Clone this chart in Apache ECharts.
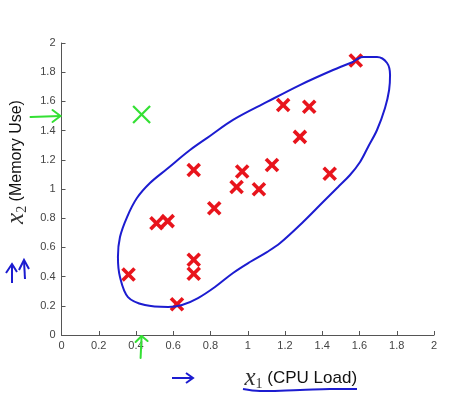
<!DOCTYPE html>
<html>
<head>
<meta charset="utf-8">
<script src="https://cdn.jsdelivr.net/npm/echarts@6/dist/echarts.min.js"></script>
<style>
html,body{margin:0;padding:0;background:#fff;}
#chart{width:461px;height:398px;}
</style>
</head>
<body>
<div id="chart"></div>
<script>
// Normal examples (red crosses)
const cpuLoad   = [1.58, 1.19, 1.33, 1.28, 1.44, 0.71, 0.97, 1.13, 0.94, 1.06, 0.82, 0.51, 0.57, 0.71, 0.71, 0.36, 0.62];
const memoryUse = [1.88, 1.575, 1.563, 1.357, 1.105, 1.13, 1.12, 1.164, 1.013, 0.998, 0.868, 0.765, 0.78, 0.515, 0.42, 0.415, 0.21];
// Anomalous example (green cross)
const anomalyCpu = [0.43];
const anomalyMem = [1.51];
// Hand-drawn decision boundary (blue loop)
const boundaryCpu = [1.565,1.619,1.694,1.748,1.764,1.759,1.737,1.694,1.646,1.603,1.549,1.485,1.404,1.297,1.174,1.103,1.012,0.921,0.824,0.733,0.647,0.572,0.448,0.357,0.314,0.303,0.314,0.352,0.405,0.475,0.566,0.690,0.797,0.921,1.103,1.280,1.458,1.565];
const boundaryMem = [1.870,1.904,1.904,1.863,1.781,1.678,1.555,1.404,1.288,1.185,1.096,1.014,0.911,0.774,0.630,0.568,0.500,0.425,0.329,0.253,0.205,0.192,0.205,0.260,0.397,0.534,0.671,0.808,0.938,1.041,1.137,1.267,1.363,1.473,1.596,1.712,1.815,1.870];
// Arrow annotations pointing at the anomaly's coordinates
const arrowTips = [[0, 1.5, 'h'], [0.43, 0, 'v']];
const axisTicks = [0, 0.2, 0.4, 0.6, 0.8, 1, 1.2, 1.4, 1.6, 1.8, 2];

const RED = '#e8141c', GREEN = '#33e033', BLUE = '#1c1cd0';

function crossRenderer(color, s, w) {
  return function (params, api) {
    const p = api.coord([api.value(0), api.value(1)]);
    return {
      type: 'group',
      children: [
        {type: 'line', shape: {x1: p[0]-s, y1: p[1]-s, x2: p[0]+s, y2: p[1]+s}, style: {stroke: color, lineWidth: w, lineCap: 'butt'}},
        {type: 'line', shape: {x1: p[0]-s, y1: p[1]+s, x2: p[0]+s, y2: p[1]-s}, style: {stroke: color, lineWidth: w, lineCap: 'butt'}}
      ]
    };
  };
}

const chart = echarts.init(document.getElementById('chart'), null, {renderer: 'canvas'});
const axisCommon = {
  type: 'value', min: 0, max: 2, interval: 0.2,
  splitLine: {show: false},
  axisLine: {show: true, onZero: false, lineStyle: {color: '#555', width: 1}},
  axisTick: {show: true, inside: true, length: 4, lineStyle: {color: '#555'}},
  axisLabel: {color: '#444', fontSize: 11, fontFamily: 'Liberation Sans', formatter: v => String(+v.toFixed(1))}
};
chart.setOption({
  animation: false,
  backgroundColor: '#fff',
  grid: {left: 61.5, right: 27, top: 43, bottom: 63, containLabel: false, outerBoundsMode: 'none'},
  xAxis: Object.assign({}, axisCommon, {
    axisLabel: Object.assign({}, axisCommon.axisLabel, {margin: 5}),
    name: '{x|x}{sub|1}{t| (CPU Load)}',
    nameLocation: 'middle', nameGap: 31,
    nameTextStyle: {padding: [0, 0, 0, 106], rich: {
      x: {fontFamily: 'Liberation Serif', fontStyle: 'italic', fontSize: 25, color: '#333'},
      sub: {fontFamily: 'Liberation Serif', fontSize: 14, color: '#333', verticalAlign: 'bottom', padding: [10, 0, 0, 0]},
      t: {fontFamily: 'Liberation Sans', fontSize: 17, color: '#111'}
    }}
  }),
  yAxis: Object.assign({}, axisCommon, {
    axisLabel: Object.assign({}, axisCommon.axisLabel, {margin: 6}),
    name: '{x|x}{sub|2}{t| (Memory Use)}',
    nameLocation: 'middle', nameGap: 28, nameRotate: 90,
    nameTextStyle: {padding: [0, 0, 0, 54], rich: {
      x: {fontFamily: 'Liberation Serif', fontStyle: 'italic', fontSize: 25, color: '#333'},
      sub: {fontFamily: 'Liberation Serif', fontSize: 14, color: '#333', verticalAlign: 'bottom', padding: [10, 0, 0, 0]},
      t: {fontFamily: 'Liberation Sans', fontSize: 16, color: '#111'}
    }}
  }),
  series: [
    {
      type: 'custom', name: 'normal', z: 3,
      data: cpuLoad.map((x, i) => [x, memoryUse[i]]),
      renderItem: crossRenderer(RED, 6, 3.6)
    },
    {
      type: 'line', name: 'boundary', z: 4,
      data: boundaryCpu.map((x, i) => [x, boundaryMem[i]]),
      smooth: 0.35, showSymbol: false, symbol: 'none',
      lineStyle: {color: BLUE, width: 2}
    },
    {
      type: 'custom', name: 'anomaly', z: 5,
      data: anomalyCpu.map((x, i) => [x, anomalyMem[i]]),
      renderItem: crossRenderer(GREEN, 8.5, 2.2)
    },
    {
      type: 'custom', name: 'arrows', z: 5, clip: false,
      data: arrowTips,
      renderItem: function (params, api) {
        const p = api.coord([api.value(0), api.value(1)]);
        const horiz = arrowTips[params.dataIndex][2] === 'h';
        let shapes;
        if (horiz) {
          shapes = [[p[0]-31, p[1]+1, p[0]-1, p[1]], [p[0]-9, p[1]-6, p[0]-1, p[1]], [p[0]-1, p[1], p[0]-9, p[1]+6]];
        } else {
          shapes = [[p[0]-1, p[1]+23, p[0], p[1]+1], [p[0]-6, p[1]+7, p[0], p[1]+1], [p[0], p[1]+1, p[0]+6, p[1]+6]];
        }
        return {type: 'group', children: shapes.map(s => ({
          type: 'line', shape: {x1: s[0], y1: s[1], x2: s[2], y2: s[3]},
          style: {stroke: GREEN, lineWidth: 2, lineCap: 'round'}
        }))};
      }
    }
  ],
  graphic: [
    // blue arrow before x-axis label
    {type: 'polyline', shape: {points: [[172, 378], [192, 378]]}, style: {stroke: BLUE, lineWidth: 2, fill: null}},
    {type: 'polyline', shape: {points: [[186, 373], [193, 378], [186, 383]]}, style: {stroke: BLUE, lineWidth: 2, fill: null}},
    // blue underline under x-axis label
    {type: 'polyline', shape: {points: [[243, 389], [260, 391], [300, 390], [330, 389], [357, 389]], smooth: 0.4}, style: {stroke: BLUE, lineWidth: 2, fill: null}},
    // blue arrows beside y-axis label
    {type: 'polyline', shape: {points: [[12, 283], [12, 266]]}, style: {stroke: BLUE, lineWidth: 2, fill: null}},
    {type: 'polyline', shape: {points: [[6, 273], [12, 264], [17, 272]]}, style: {stroke: BLUE, lineWidth: 2, fill: null}},
    {type: 'polyline', shape: {points: [[25, 279], [24, 261]]}, style: {stroke: BLUE, lineWidth: 2, fill: null}},
    {type: 'polyline', shape: {points: [[19, 270], [24, 260], [29, 269]]}, style: {stroke: BLUE, lineWidth: 2, fill: null}}
  ]
});
</script>
</body>
</html>
